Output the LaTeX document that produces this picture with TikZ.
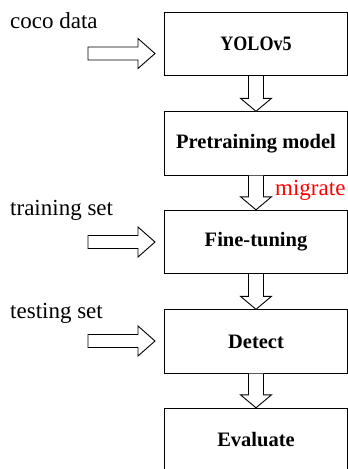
\documentclass[tikz,border=0pt]{standalone}
\usepackage{fontspec}
\setmainfont{Liberation Serif}
\usetikzlibrary{calc}
\tikzset{
  stagebox/.style={draw, line width=0.9pt, minimum width=183pt, minimum height=63.5pt, inner sep=0pt,
    font=\fontsize{20.5}{24}\selectfont\bfseries},
  inlabel/.style={anchor=base west, inner sep=0pt, font=\fontsize{23}{27}\selectfont},
  blockarrow/.style={draw, line width=0.9pt, line join=miter, fill=white}
}
% hollow block arrows
\newcommand{\flowdown}[2]{%
  \draw[blockarrow] ($(#1.south)+(-7.5,0)$) -- ($(#2.north)+(-7.5,-13)$) -- ++(-8,0) -- (#2.north)
    -- ++(15.5,-13) -- ++(-8,0) -- ($(#1.south)+(7.5,0)$);}
\newcommand{\flowright}[2]{%
  \draw[blockarrow] ($(#1)+(0,-6.5)$) -- ($(#2)+(-17,-6.5)$) -- ++(0,-8.5) -- (#2)
    -- ++(-17,15) -- ++(0,-8.5) -- ($(#1)+(0,6.5)$) -- cycle;}
\begin{document}
\begin{tikzpicture}[x=1pt,y=-1pt]
\useasboundingbox (0,0) rectangle (348,469);
\begin{scope}
\clip (0,0) rectangle (348,469);
\node[stagebox] (yolo) at (256,44){\scalebox{0.88}[1]{YOLOv5}};
\node[stagebox] (pre) at (256,143.5){Pretraining model};
\node[stagebox] (fine) at (256,242){Fine-tuning};
\node[stagebox] (det) at (256,341.5){Detect};
\node[stagebox] (eval) at (256,440){Evaluate};
%
\node[inlabel] (coco) at (10,28){coco data};
\node[inlabel] (train) at (10,215){training set};
\node[inlabel] (test) at (10,318){testing set};
\node[inlabel, text=red] (mig) at (275,195){migrate};
%
\coordinate (cocoS) at (88,53.5);
\coordinate (cocoE) at (155,53.5);
\coordinate (trainS) at (88,242);
\coordinate (trainE) at (155,242);
\coordinate (testS) at (88,341);
\coordinate (testE) at (155,341);
%
\flowright{cocoS}{cocoE}
\flowright{trainS}{trainE}
\flowright{testS}{testE}
\flowdown{yolo}{pre}
\flowdown{pre}{fine}
\flowdown{fine}{det}
\flowdown{det}{eval}
\end{scope}
\end{tikzpicture}
\end{document}
